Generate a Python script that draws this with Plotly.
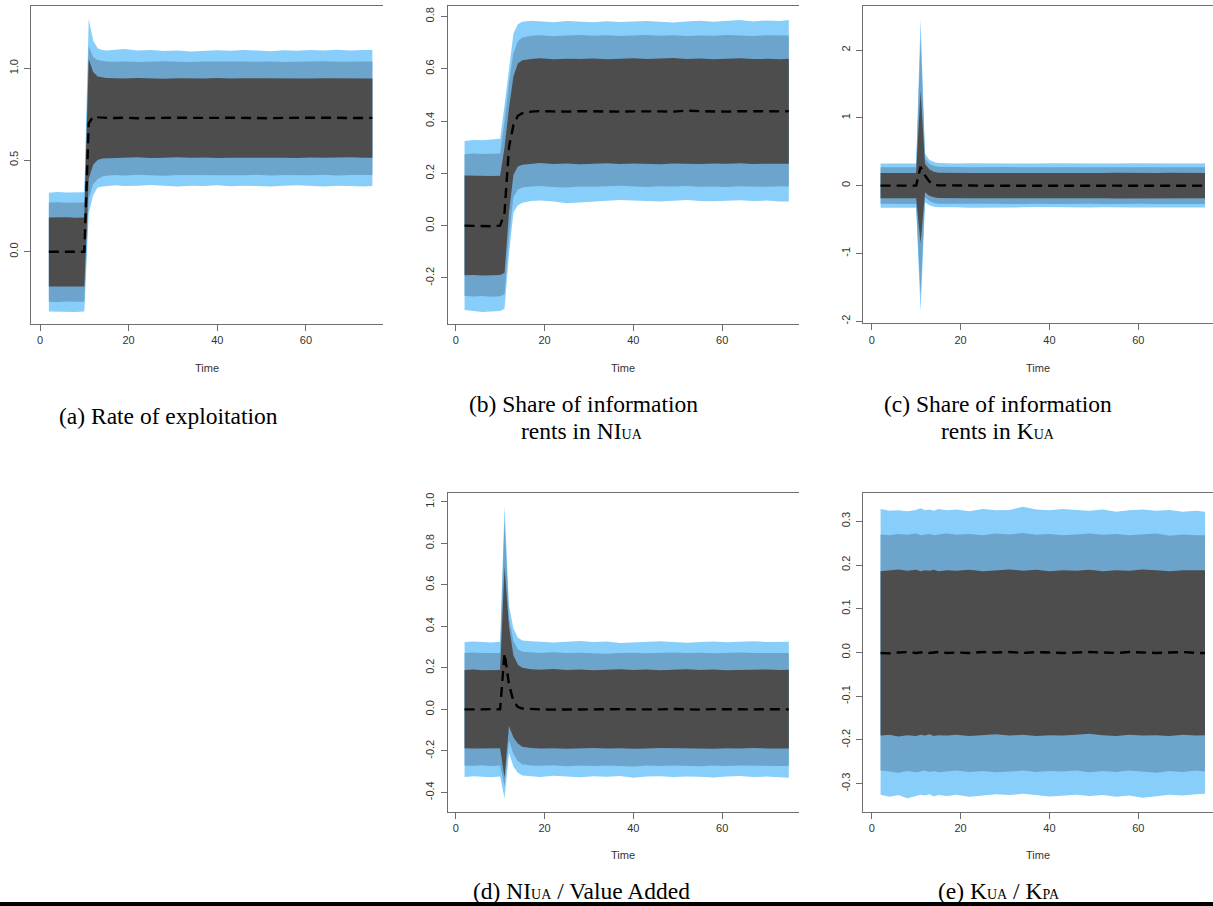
import plotly.graph_objects as go

time = [2, 4, 6, 8, 10, 11, 12, 13, 14, 15, 17, 19, 22, 25, 28, 31, 34, 37, 40, 43, 46,
        49, 52, 55, 58, 61, 64, 67, 70, 73, 75]
x_ticks = [0, 20, 40, 60]
x_ticktext = ["0", "20", "40", "60"]

# (a) Rate of exploitation
a_lo3 = [-0.326,-0.330,-0.327,-0.328,-0.326, 0.21,0.31,0.35,0.356,0.360, 0.362,0.358,0.360,0.364,0.360,0.356,0.360,0.358,0.362,0.357,0.360,0.358,0.356,0.360,0.362,0.359,0.356,0.360,0.358,0.356,0.358]
a_lo2 = [-0.272,-0.274,-0.271,-0.273,-0.272, 0.29,0.37,0.395,0.41,0.415, 0.418,0.416,0.420,0.417,0.415,0.419,0.417,0.420,0.416,0.418,0.417,0.420,0.416,0.418,0.419,0.417,0.420,0.416,0.418,0.419,0.418]
a_lo1 = [-0.189,-0.190,-0.188,-0.190,-0.189, 0.40,0.475,0.50,0.508,0.512, 0.514,0.512,0.515,0.511,0.513,0.515,0.512,0.514,0.511,0.513,0.515,0.512,0.514,0.513,0.511,0.514,0.512,0.513,0.515,0.512,0.513]
a_med = [0.000,0.001,-0.001,0.000,0.000, 0.70,0.737,0.734,0.731,0.730, 0.729,0.731,0.728,0.730,0.729,0.731,0.730,0.728,0.730,0.731,0.729,0.730,0.728,0.730,0.731,0.729,0.730,0.731,0.729,0.730,0.730]
a_hi1 = [0.187,0.189,0.188,0.186,0.187, 1.05,0.98,0.956,0.950,0.948, 0.946,0.944,0.947,0.945,0.943,0.946,0.944,0.945,0.947,0.944,0.946,0.945,0.943,0.946,0.945,0.944,0.946,0.945,0.944,0.946,0.945]
a_hi2 = [0.268,0.270,0.267,0.269,0.268, 1.12,1.06,1.045,1.040,1.038, 1.036,1.038,1.035,1.037,1.039,1.036,1.034,1.037,1.038,1.035,1.037,1.036,1.038,1.035,1.037,1.036,1.039,1.036,1.037,1.035,1.037]
a_hi3 = [0.322,0.326,0.323,0.325,0.324, 1.27,1.15,1.11,1.100,1.098, 1.102,1.105,1.098,1.100,1.094,1.098,1.092,1.097,1.099,1.096,1.100,1.097,1.093,1.099,1.096,1.100,1.097,1.101,1.098,1.100,1.100]
a_yticks = [0.0, 0.5, 1.0]
a_yticktext = ["0.0", "0.5", "1.0"]

# (b) Share of information rents in NI_UA
b_lo3 = [-0.322,-0.326,-0.330,-0.327,-0.326, -0.318,-0.11,0.05,0.078,0.088, 0.094,0.096,0.092,0.086,0.090,0.092,0.095,0.098,0.096,0.094,0.092,0.095,0.098,0.094,0.093,0.095,0.097,0.094,0.096,0.092,0.092]
b_lo2 = [-0.268,-0.271,-0.269,-0.272,-0.270, -0.262,-0.04,0.11,0.138,0.146, 0.150,0.152,0.148,0.146,0.150,0.149,0.151,0.153,0.150,0.148,0.151,0.150,0.152,0.149,0.150,0.148,0.151,0.150,0.149,0.151,0.150]
b_lo1 = [-0.190,-0.189,-0.191,-0.190,-0.189, -0.18,0.05,0.195,0.226,0.233, 0.236,0.240,0.236,0.238,0.235,0.237,0.239,0.236,0.238,0.237,0.235,0.238,0.237,0.236,0.238,0.237,0.239,0.236,0.237,0.238,0.237]
b_med = [0.000,-0.001,0.000,-0.002,0.000, 0.05,0.30,0.385,0.420,0.430, 0.436,0.438,0.437,0.436,0.438,0.437,0.438,0.436,0.437,0.438,0.437,0.436,0.440,0.438,0.437,0.436,0.438,0.437,0.438,0.437,0.438]
b_hi1 = [0.192,0.191,0.192,0.190,0.191, 0.30,0.45,0.57,0.620,0.633, 0.637,0.640,0.636,0.638,0.637,0.639,0.636,0.638,0.640,0.637,0.638,0.641,0.637,0.639,0.636,0.638,0.640,0.637,0.638,0.636,0.638]
b_hi2 = [0.273,0.276,0.274,0.275,0.276, 0.40,0.545,0.66,0.705,0.720, 0.726,0.728,0.724,0.727,0.729,0.726,0.728,0.725,0.727,0.729,0.726,0.728,0.725,0.727,0.726,0.729,0.727,0.725,0.728,0.727,0.727]
b_hi3 = [0.324,0.328,0.327,0.329,0.332, 0.46,0.61,0.735,0.770,0.780, 0.784,0.781,0.778,0.783,0.780,0.778,0.782,0.779,0.781,0.783,0.780,0.777,0.781,0.784,0.780,0.782,0.786,0.781,0.785,0.783,0.786]
b_yticks = [-0.2, 0.0, 0.2, 0.4, 0.6, 0.8]
b_yticktext = ["-0.2", "0.0", "0.2", "0.4", "0.6", "0.8"]

# (c) Share of information rents in K_UA
c_lo3 = [-0.325,-0.322,-0.327,-0.323,-0.324, -1.86,-0.25,-0.29,-0.31,-0.318, -0.322,-0.318,-0.324,-0.320,-0.317,-0.323,-0.320,-0.316,-0.321,-0.325,-0.319,-0.322,-0.320,-0.318,-0.323,-0.321,-0.319,-0.322,-0.320,-0.323,-0.321]
c_lo2 = [-0.268,-0.270,-0.267,-0.271,-0.269, -1.62,-0.17,-0.225,-0.255,-0.265, -0.270,-0.268,-0.271,-0.269,-0.267,-0.270,-0.272,-0.268,-0.270,-0.269,-0.271,-0.268,-0.270,-0.269,-0.271,-0.268,-0.270,-0.269,-0.271,-0.268,-0.270]
c_lo1 = [-0.186,-0.188,-0.185,-0.187,-0.186, -0.85,-0.10,-0.15,-0.172,-0.182, -0.186,-0.188,-0.185,-0.187,-0.186,-0.188,-0.185,-0.187,-0.186,-0.188,-0.185,-0.187,-0.186,-0.188,-0.185,-0.187,-0.186,-0.188,-0.185,-0.187,-0.186]
c_med = [0.000,0.002,-0.001,0.001,0.000, 0.28,0.15,0.06,0.02,0.005, 0.001,0.000,0.002,-0.001,0.000,0.001,0.000,0.003,0.000,-0.001,0.001,0.000,0.002,0.000,-0.001,0.001,0.000,0.001,0.000,-0.001,0.000]
c_hi1 = [0.186,0.188,0.187,0.185,0.187, 1.40,0.32,0.24,0.205,0.192, 0.188,0.190,0.186,0.188,0.187,0.189,0.186,0.188,0.187,0.189,0.186,0.188,0.187,0.189,0.186,0.188,0.187,0.189,0.186,0.188,0.187]
c_hi2 = [0.270,0.272,0.269,0.271,0.270, 2.18,0.40,0.32,0.29,0.278, 0.272,0.274,0.270,0.273,0.271,0.274,0.270,0.272,0.271,0.273,0.270,0.272,0.271,0.273,0.270,0.272,0.271,0.273,0.270,0.272,0.271]
c_hi3 = [0.326,0.328,0.325,0.329,0.327, 2.46,0.47,0.38,0.35,0.335, 0.330,0.328,0.332,0.329,0.327,0.331,0.328,0.326,0.330,0.328,0.331,0.327,0.329,0.326,0.330,0.328,0.331,0.327,0.329,0.328,0.330]
c_yticks = [-2, -1, 0, 1, 2]
c_yticktext = ["-2", "-1", "0", "1", "2"]

# (d) NI_UA / Value Added
d_lo3 = [-0.326,-0.322,-0.325,-0.327,-0.324, -0.43,-0.21,-0.275,-0.305,-0.318, -0.322,-0.326,-0.320,-0.324,-0.327,-0.322,-0.325,-0.321,-0.329,-0.324,-0.322,-0.326,-0.323,-0.325,-0.328,-0.324,-0.321,-0.326,-0.324,-0.327,-0.329]
d_lo2 = [-0.270,-0.272,-0.269,-0.273,-0.271, -0.37,-0.15,-0.215,-0.250,-0.264, -0.270,-0.272,-0.269,-0.274,-0.271,-0.273,-0.270,-0.272,-0.275,-0.271,-0.273,-0.270,-0.272,-0.274,-0.271,-0.273,-0.270,-0.272,-0.271,-0.273,-0.272]
d_lo1 = [-0.187,-0.189,-0.186,-0.188,-0.187, -0.33,-0.08,-0.135,-0.165,-0.180, -0.186,-0.189,-0.187,-0.190,-0.188,-0.186,-0.189,-0.187,-0.190,-0.188,-0.186,-0.189,-0.187,-0.188,-0.190,-0.187,-0.189,-0.186,-0.188,-0.190,-0.189]
d_med = [0.000,-0.001,0.000,0.001,0.000, 0.27,0.12,0.04,0.012,0.004, 0.001,0.000,-0.001,0.000,0.001,-0.001,0.000,0.001,0.000,-0.001,0.000,0.002,0.000,-0.001,0.001,0.000,-0.001,0.000,0.001,0.000,0.000]
d_hi1 = [0.190,0.192,0.189,0.191,0.190, 0.69,0.40,0.26,0.215,0.200, 0.193,0.191,0.194,0.190,0.192,0.189,0.191,0.193,0.190,0.192,0.189,0.191,0.193,0.190,0.192,0.189,0.191,0.190,0.192,0.190,0.191]
d_hi2 = [0.272,0.274,0.271,0.273,0.272, 0.91,0.44,0.33,0.29,0.278, 0.274,0.272,0.275,0.271,0.273,0.270,0.268,0.271,0.273,0.270,0.272,0.274,0.271,0.273,0.270,0.272,0.274,0.271,0.273,0.272,0.272]
d_hi3 = [0.324,0.327,0.325,0.322,0.326, 0.98,0.50,0.39,0.345,0.332, 0.328,0.325,0.322,0.326,0.329,0.324,0.327,0.320,0.323,0.326,0.328,0.324,0.321,0.325,0.327,0.323,0.326,0.328,0.325,0.327,0.326]
d_yticks = [-0.4, -0.2, 0.0, 0.2, 0.4, 0.6, 0.8, 1.0]
d_yticktext = ["-0.4", "-0.2", "0.0", "0.2", "0.4", "0.6", "0.8", "1.0"]

# (e) K_UA / K_PA
e_lo3 = [-0.325,-0.330,-0.326,-0.333,-0.328,-0.325,-0.327,-0.324,-0.329,-0.326, -0.328,-0.325,-0.330,-0.327,-0.324,-0.326,-0.323,-0.326,-0.329,-0.327,-0.325,-0.328,-0.326,-0.330,-0.327,-0.332,-0.328,-0.325,-0.327,-0.324,-0.323]
e_lo2 = [-0.270,-0.272,-0.275,-0.271,-0.274,-0.272,-0.270,-0.273,-0.271,-0.274, -0.272,-0.270,-0.273,-0.271,-0.274,-0.272,-0.270,-0.273,-0.271,-0.272,-0.270,-0.274,-0.271,-0.273,-0.270,-0.272,-0.275,-0.271,-0.273,-0.270,-0.272]
e_lo1 = [-0.190,-0.188,-0.192,-0.189,-0.191,-0.188,-0.190,-0.187,-0.191,-0.189, -0.190,-0.188,-0.191,-0.189,-0.187,-0.190,-0.188,-0.191,-0.189,-0.190,-0.188,-0.186,-0.189,-0.191,-0.188,-0.190,-0.189,-0.191,-0.188,-0.190,-0.189]
e_med = [-0.001,-0.002,0.000,0.001,-0.001,0.000,0.001,-0.001,0.000,0.001, -0.001,0.000,-0.001,0.001,0.000,0.001,-0.001,0.001,0.000,-0.001,0.000,0.001,0.000,-0.001,0.001,0.000,-0.001,0.000,0.001,-0.001,-0.001]
e_hi1 = [0.186,0.188,0.190,0.187,0.189,0.186,0.188,0.187,0.189,0.186, 0.188,0.187,0.189,0.186,0.188,0.190,0.187,0.189,0.186,0.188,0.187,0.189,0.186,0.188,0.187,0.190,0.188,0.186,0.188,0.187,0.188]
e_hi2 = [0.270,0.268,0.271,0.269,0.272,0.268,0.270,0.271,0.268,0.270, 0.272,0.269,0.271,0.268,0.272,0.270,0.273,0.269,0.271,0.268,0.270,0.272,0.269,0.271,0.268,0.270,0.272,0.267,0.270,0.268,0.268]
e_hi3 = [0.328,0.324,0.325,0.323,0.326,0.330,0.325,0.327,0.324,0.328, 0.325,0.327,0.323,0.328,0.325,0.326,0.333,0.327,0.325,0.328,0.326,0.324,0.327,0.322,0.325,0.327,0.324,0.326,0.322,0.324,0.322]
e_yticks = [-0.3, -0.2, -0.1, 0.0, 0.1, 0.2, 0.3]
e_yticktext = ["-0.3", "-0.2", "-0.1", "0.0", "0.1", "0.2", "0.3"]

# ---- styling / layout ----
W, H = 1213, 906
LIGHT = "#87CEFA"
MID = "#6CA4CC"
DARK = "#4D4D4D"
AXC = "#6e6e6e"
TXT = "#333333"


def fx(px):
    return px / W


def fy(py):
    return 1 - py / H


panels = [
    dict(b=(a_lo3, a_lo2, a_lo1, a_med, a_hi1, a_hi2, a_hi3), yt=a_yticks, ytt=a_yticktext,
         xd=(31, 383), yd=(6, 324), xr=(-2.03, 77.4), yr=(-0.394, 1.340)),
    dict(b=(b_lo3, b_lo2, b_lo1, b_med, b_hi1, b_hi2, b_hi3), yt=b_yticks, ytt=b_yticktext,
         xd=(447.7, 799), yd=(6, 324), xr=(-1.8, 77.3), yr=(-0.376, 0.840)),
    dict(b=(c_lo3, c_lo2, c_lo1, c_med, c_hi1, c_hi2, c_hi3), yt=c_yticks, ytt=c_yticktext,
         xd=(863.3, 1213), yd=(6, 323.3), xr=(-1.89, 76.8), yr=(-2.03, 2.65)),
    dict(b=(d_lo3, d_lo2, d_lo1, d_med, d_hi1, d_hi2, d_hi3), yt=d_yticks, ytt=d_yticktext,
         xd=(447.7, 799), yd=(493.3, 811.7), xr=(-1.8, 77.3), yr=(-0.493, 1.041)),
    dict(b=(e_lo3, e_lo2, e_lo1, e_med, e_hi1, e_hi2, e_hi3), yt=e_yticks, ytt=e_yticktext,
         xd=(863.3, 1213), yd=(493.3, 811.7), xr=(-1.89, 76.8), yr=(-0.364, 0.364)),
]

fig = go.Figure()
layout = dict(
    width=W, height=H, margin=dict(l=0, r=0, t=0, b=0),
    paper_bgcolor="white", plot_bgcolor="white", showlegend=False,
)

rev_t = time[::-1]
for i, p in enumerate(panels, start=1):
    xa = "x" if i == 1 else f"x{i}"
    ya = "y" if i == 1 else f"y{i}"
    lo3, lo2, lo1, med, hi1, hi2, hi3 = p["b"]
    for lo, hi, col in ((lo3, hi3, LIGHT), (lo2, hi2, MID), (lo1, hi1, DARK)):
        fig.add_trace(go.Scatter(
            x=time + rev_t, y=list(hi) + list(lo)[::-1],
            mode="lines", fill="toself", fillcolor=col,
            line=dict(width=0, color=col), hoverinfo="skip",
            xaxis=xa, yaxis=ya))
    fig.add_trace(go.Scatter(
        x=time, y=med, mode="lines",
        line=dict(color="black", width=2.4, dash="10px,6px"),
        xaxis=xa, yaxis=ya))

    axis_common = dict(
        showgrid=False, zeroline=False, showline=True, linecolor=AXC, linewidth=1,
        ticks="outside", ticklen=6, tickwidth=1, tickcolor=AXC,
        tickfont=dict(family="Liberation Sans, Arial, sans-serif", size=11, color=TXT),
        automargin=False, fixedrange=True,
    )
    layout["xaxis" if i == 1 else f"xaxis{i}"] = dict(
        axis_common, domain=[fx(p["xd"][0]), fx(p["xd"][1])], range=list(p["xr"]),
        tickvals=x_ticks, ticktext=x_ticktext, mirror=True, anchor=ya,
    )
    layout["yaxis" if i == 1 else f"yaxis{i}"] = dict(
        axis_common, domain=[fy(p["yd"][1]), fy(p["yd"][0])], range=list(p["yr"]),
        tickvals=p["yt"], ticktext=p["ytt"], tickangle=-90, anchor=xa,
        ticklabelstandoff=2,
    )

ann = []
for cx, cy in ((207, 367.5), (623.3, 367.5), (1038, 367.5), (623.3, 855), (1038, 855)):
    ann.append(dict(x=fx(cx), y=fy(cy), xref="paper", yref="paper", text="Time",
                    showarrow=False, xanchor="center", yanchor="middle",
                    font=dict(family="Liberation Sans, Arial, sans-serif", size=11, color=TXT)))

SER = "Liberation Serif, Times New Roman, serif"
SUB = "<span style='font-size:14px'>{}</span>"
captions = [
    ("(a) Rate of exploitation", 168.6, 416.5),
    ("(b) Share of information", 583, 403.5),
    ("rents in NI" + SUB.format("UA"), 582, 431),
    ("(c) Share of information", 998.3, 403.5),
    ("rents in K" + SUB.format("UA"), 998, 431),
    ("(d) NI" + SUB.format("UA") + " / Value Added", 581.5, 890.5),
    ("(e) K" + SUB.format("UA") + " / K" + SUB.format("PA"), 999.5, 890.5),
]
for txt, cx, cy in captions:
    ann.append(dict(x=fx(cx), y=fy(cy), xref="paper", yref="paper", text=txt,
                    showarrow=False, xanchor="center", yanchor="middle",
                    font=dict(family=SER, size=23.5, color="black")))
layout["annotations"] = ann
layout["shapes"] = [dict(type="rect", xref="paper", yref="paper", x0=0, x1=1,
                         y0=fy(906), y1=fy(902), fillcolor="black", line=dict(width=0))]

fig.update_layout(**layout)
fig.write_html("out.html")
